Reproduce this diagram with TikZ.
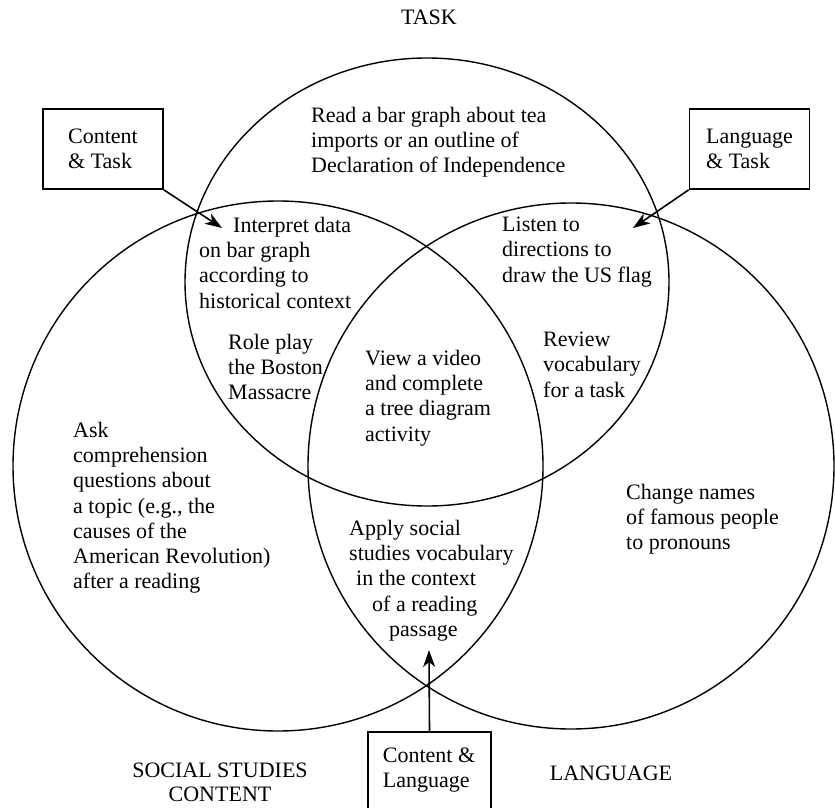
\documentclass[tikz,border=0pt]{standalone}
\usepackage{fontspec}
\setmainfont{Liberation Serif}
\usetikzlibrary{arrows.meta}
\begin{document}
\begin{tikzpicture}[x=1pt,y=-1pt,
  every node/.style={font=\fontsize{22}{25.2}\selectfont, inner sep=0pt},
  venn/.style={line width=1.4pt},
  labelbox/.style={draw, line width=1.8pt, align=left, minimum width=120pt, minimum height=80pt},
  txt/.style={align=left, anchor=north west},
  pointer/.style={line width=1.6pt, -{Stealth[length=17pt,width=12pt,inset=5pt]}}
]
\useasboundingbox (0,0) rectangle (835,808);
\clip (0,0) rectangle (835,808);
% the three sets
\draw[venn] (427,282) ellipse [x radius=242pt, y radius=224pt];
\draw[venn] (278,466) circle [radius=265pt];
\draw[venn] (571,466) circle [radius=263pt];
% set titles
\node[anchor=base] (task) at (429,25) {TASK};
\node[align=center, anchor=north, font=\fontsize{22}{23.5}\selectfont] (ssc) at (220,763) {SOCIAL STUDIES\\CONTENT};
\node[anchor=base] (lang) at (611,780) {LANGUAGE};
% region texts
\node[txt] (t1) at (311,107) {Read a bar graph about tea\\imports or an outline of\\Declaration of Independence};
\node[txt] (t2) at (199,217) {\hspace*{34pt}Interpret data\\on bar graph\\according to\\historical context};
\node[txt] (t3) at (228,334) {Role play\\the Boston\\Massacre};
\node[txt] (t4) at (502,217) {Listen to\\directions to\\draw the US flag};
\node[txt] (t5) at (543,332) {Review\\vocabulary\\for a task};
\node[txt] (t6) at (365,350) {View a video\\and complete\\a tree diagram\\activity};
\node[txt] (t7) at (73,422) {Ask\\comprehension\\questions about\\a topic (e.g., the\\causes of the\\American Revolution)\\after a reading};
\node[txt] (t8) at (626,484) {Change names\\of famous people\\to pronouns};
\node[txt] (t9) at (349,520) {Apply social\\studies vocabulary\\\hspace*{7pt}in the context\\\hspace*{23pt}of a reading\\\hspace*{40pt}passage};
% callout boxes
\node[labelbox] (ct) at (103,149) {Content\\\& Task};
\node[labelbox] (lt) at (749.5,149) {Language\\\& Task};
\node[draw, line width=1.8pt, minimum width=123pt, minimum height=100pt, anchor=north] (cl) at (429.5,731) {};
\node[align=left] (cltext) at (429,770) {Content \&\\Language};
% arrow targets
\coordinate (ctTip) at (222,228);
\coordinate (ltTip) at (633,228);
\coordinate (clTip) at (429,650);
\draw[pointer] (ct.south east) -- (ctTip);
\draw[pointer] (lt.south west) -- (ltTip);
\draw[pointer] (cl.north) -- (clTip);
\end{tikzpicture}
\end{document}
